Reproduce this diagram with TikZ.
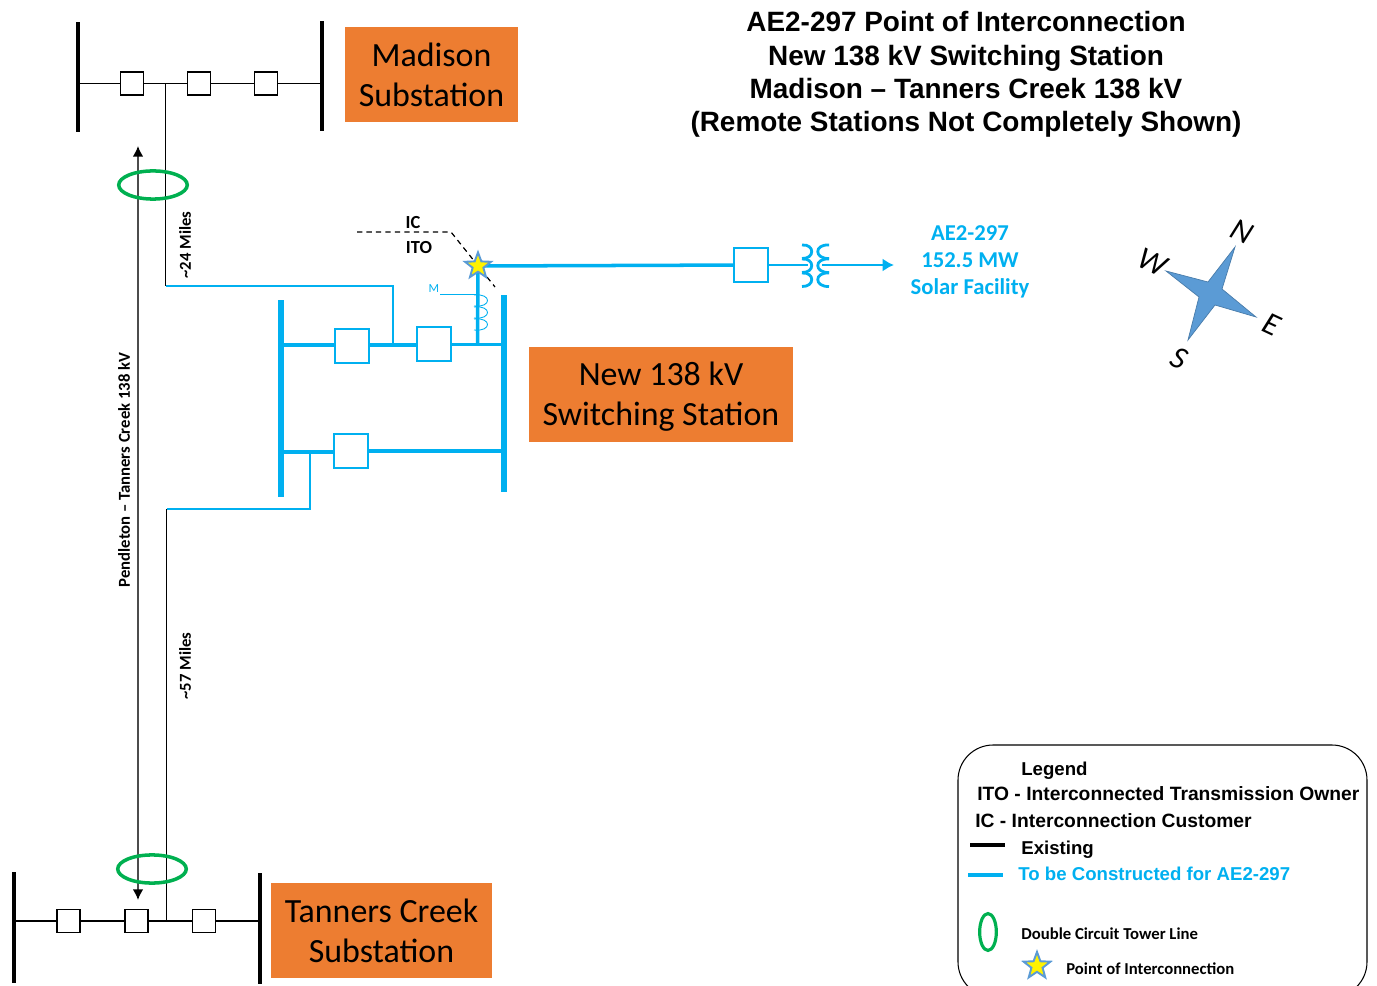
\documentclass[tikz,border=0pt]{standalone}
\usepackage{fontspec}
\setmainfont{Liberation Sans}
\newfontfamily\calibri{Carlito}
\usetikzlibrary{calc, arrows.meta, shapes.geometric}
\definecolor{myblue}{RGB}{0, 176, 240}
\definecolor{myorange}{RGB}{237, 125, 49}
\definecolor{mygreen}{RGB}{0, 176, 80}
\definecolor{mystar}{RGB}{91, 155, 213}
\tikzset{>=Latex}

\begin{document}
\begin{tikzpicture}[
    x = 0.02cm, y = -0.02cm,
    k0/.style = {line width = 0.9pt, black},
    b0/.style = {line width = 2pt, myblue},
    b1/.style = {line width = 1.7pt, myblue},
    kbox/.style = {draw = black, line width = 0.9pt, fill = white, minimum size = 13pt, inner sep = 0},
    bbox/.style = {draw = myblue, line width = 1.1pt, fill = white, minimum size = 19pt, inner sep = 0},
    kbus/.style = {fill = black, minimum width = 2.4pt, minimum height = 63pt, inner sep = 0},
    bbus/.style = {fill = myblue, minimum width = 3.4pt, minimum height = 112pt, inner sep = 0},
    sub/.style = {fill = myorange, align = center, inner sep = 0, font = \calibri\fontsize{19.3}{22.8}\selectfont},
    ring/.style = {ellipse, draw = mygreen, line width = 2pt, inner sep = 0},
    poi/.style = {star, star points = 5, star point ratio = 2.4, fill = yellow, draw = mystar, line width = 1.1pt, inner sep = 0},
    lab/.style = {inner sep = 0, font = \calibri\bfseries\fontsize{9.5}{11}\selectfont},
    leg/.style = {anchor = base west, inner sep = 0, font = \bfseries\fontsize{10.6}{13}\selectfont},
    title/.style = {align = center, inner sep = 0, font = \bfseries\fontsize{15.9}{19}\selectfont},
    dir/.style = {inner sep = 0, font = \calibri\itshape\fontsize{18}{20}\selectfont}
]
\clip (0,0) rectangle (1377,986);

% Madison
\node[kbus] (madW) at (78,77) {};
\node[kbus] (madE) at (322,76) {};
\node[kbox] (mad1) at (132,83.5) {};
\node[kbox] (mad2) at (199,83.5) {};
\node[kbox] (mad3) at (266,83.5) {};
\draw[k0] (madW |- mad1) -- (mad1) -- (mad2) -- (mad3) -- (madE |- mad3);
\node[sub, minimum width = 98.4pt, minimum height = 54pt] (madison) at (431.5,74.5) {Madison\\Substation};

% Tanners Creek
\node[kbus] (tanW) at (14,927.5) {};
\node[kbus] (tanE) at (260,928.5) {};
\node[kbox] (tan1) at (68.5,921) {};
\node[kbox] (tan2) at (136.5,921) {};
\node[kbox] (tan3) at (204,921) {};
\draw[k0] (tanW |- tan1) -- (tan1) -- (tan2) -- (tan3) -- (tanE |- tan3);
\node[sub, minimum width = 125.8pt, minimum height = 54pt] (tanners) at (381.5,930.5) {Tanners Creek\\Substation};

% existing lines
\coordinate (madtap) at (165.5,83.5);
\coordinate (madend) at (165.5,286);
\coordinate (tantap) at (166.5,921);
\coordinate (tanend) at (166.5,509);
\draw[k0] (madtap) -- (madend);
\draw[k0] (tantap) -- (tanend);
\coordinate (pendN) at (138,146);
\coordinate (pendS) at (138,900);
\draw[line width = 0.9pt, black!70, {Latex[black, length = 6pt, width = 6pt]}-{Latex[black, length = 6pt, width = 6pt]}] (pendN) -- (pendS);
\node[ring, minimum width = 39pt, minimum height = 16pt] (ringN) at (153,185) {};
\node[ring, minimum width = 39pt, minimum height = 16pt] (ringS) at (152,869) {};

% new station
\node[bbus] (newW) at (281,398.5) {};
\node[bbus] (newE) at (504,393.5) {};
\node[bbox] (new1) at (352,346) {};
\node[bbox] (new2) at (434,344) {};
\node[bbox] (new3) at (351,451) {};
\coordinate (t1) at (393,345);
\coordinate (t2) at (477.5,344.5);
\coordinate (t3) at (310,452);
\coordinate (star) at (478,266);
\draw[b0] (newW |- t1) -- (new1.west |- t1);
\draw[b0] (new1.east |- t1) -- (new2.west |- t1);
\draw[b1] (new2.east |- t2) -- (t2) -- (newE |- t2);
\draw[b0] (newW |- t3) -- (new3.west |- t3);
\draw[b0] (new3) -- (new3 -| newE);
\draw[b1] (madend) -- (393,286) -- (t1);
\draw[b1] (tanend) -- (310,509) -- (t3);
\draw[b0] (t2) -- (star);
\node[sub, minimum width = 150.2pt, minimum height = 54pt] (station) at (661,394.5) {};
\node[font = \calibri\fontsize{19.3}{22.8}\selectfont, align = center, inner sep = 0] (stationtxt) at (661,396.5) {New 138 kV\\Switching Station};

% meter coil
\foreach \yy in {295, 307, 319} {
    \draw[myblue, line width = 0.5pt] (474,\yy) .. controls (492,\yy-2) and (492,\yy+13) .. (474,\yy+11);
}
\node[inner sep = 0, text = myblue, font = \calibri\fontsize{7}{8}\selectfont] (meter) at (434,289) {M};
\coordinate (metertap) at (477,294);
\draw[myblue, line width = 0.5pt] (440,294) -- (metertap);

% solar tie
\node[bbox] (gen) at (751,265) {};
\draw[b0] (star) -- (gen);
\coordinate (xfmr) at (808,265);
\coordinate (xfmrb) at (822,265);
\draw[b1] (gen) -- (xfmr);
\draw[b1, -{Latex[length = 6.5pt, width = 7.5pt]}] (xfmrb) -- (894,265);
\foreach \yy in {245, 259, 273} {
    \draw[myblue, line width = 1.6pt] (802,\yy) .. controls (815,\yy-1) and (815,\yy+14) .. (802,\yy+13.5);
    \draw[myblue, line width = 1.6pt] (829,\yy) .. controls (814,\yy-1) and (814,\yy+14) .. (829,\yy+13.5);
}

% IC / ITO boundary
\coordinate (dash1) at (357,232);
\coordinate (dash2) at (451,232);
\coordinate (dash3) at (495,287);
\draw[black, line width = 0.7pt, dash pattern = on 3pt off 2.4pt] (dash1) -- (dash2) -- (dash3);
\node[lab, font = \calibri\bfseries\fontsize{10.5}{12}\selectfont] (ic) at (413,223) {IC};
\node[lab, font = \calibri\bfseries\fontsize{10.5}{12}\selectfont] (ito) at (419,248) {ITO};
\node[poi, minimum size = 15.5pt] (poistar) at (star) {};

% line labels
\node[lab, rotate = 90] (pend) at (124,470) {Pendleton – Tanners Creek 138 kV};
\node[lab, rotate = 90] (m24) at (185,245) {\textasciitilde24 Miles};
\node[lab, rotate = 90] (m57) at (185,666) {\textasciitilde57 Miles};

% title and facility
\node[title] (head) at (966,74.5) {AE2-297 Point of Interconnection\\New 138 kV Switching Station\\Madison -- Tanners Creek 138 kV\\(Remote Stations Not Completely Shown)};
\node[align = center, inner sep = 0, text = myblue, font = \calibri\bfseries\fontsize{12.9}{15.3}\selectfont] (solar) at (970,262) {AE2-297\\152.5 MW\\Solar Facility};

% compass
\draw[fill = mystar, draw = mystar!80!black, line width = 0.4pt] (1235,247) -- (1222,289) -- (1256,317) -- (1215,305) -- (1188,340) -- (1199,297) -- (1166,271) -- (1208,282) -- cycle;
\node[dir, rotate = -25] (north) at (1242,232) {N};
\node[dir, rotate = -25] (west) at (1153,262) {W};
\node[dir, rotate = -25] (east) at (1272,325) {E};
\node[dir, rotate = -25] (south) at (1179,358) {S};

% legend
\draw[black, line width = 0.6pt, rounded corners = 20pt] (958,745) rectangle (1367,997);
\node[leg] (l1) at (1021,775) {Legend};
\node[leg, font = \bfseries\fontsize{10.97}{13}\selectfont] (l2) at (977,800) {ITO - Interconnected Transmission Owner};
\node[leg, font = \bfseries\fontsize{10.97}{13}\selectfont] (l3) at (975,827) {IC - Interconnection Customer};
\node[leg] (l4) at (1021,854) {Existing};
\node[leg, text = myblue] (l5) at (1018,880) {To be Constructed for AE2-297};
\coordinate (ek1) at (970,845);
\coordinate (ek2) at (1005,845);
\coordinate (eb1) at (968,875);
\coordinate (eb2) at (1003,875);
\draw[black, line width = 2pt] (ek1) -- (ek2);
\draw[myblue, line width = 2pt] (eb1) -- (eb2);
\node[ring, line width = 1.8pt, minimum width = 9.5pt, minimum height = 21pt] (ringL) at (988,932) {};
\node[lab, anchor = base west] (l6) at (1021,939) {Double Circuit Tower Line};
\node[poi, minimum size = 16pt] (starL) at (1037,966) {};
\node[lab, anchor = base west] (l7) at (1066,974) {Point of Interconnection};

\end{tikzpicture}
\end{document}
